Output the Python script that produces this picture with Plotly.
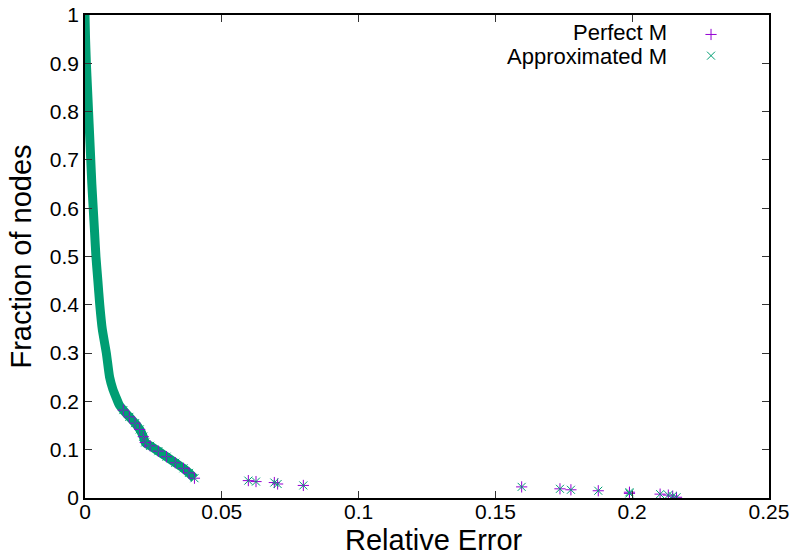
import plotly.graph_objects as go

# dense part of the curve (relative error, fraction of nodes)
band_err = [0.0, 0.0002, 0.0005, 0.0009, 0.0013, 0.0017, 0.0021, 0.0025, 0.0030,
            0.0035, 0.0040, 0.0047, 0.0054, 0.0063, 0.0078, 0.0090, 0.0102, 0.0116,
            0.0125, 0.0140, 0.0162, 0.0183, 0.0200, 0.0213, 0.0220, 0.0238, 0.0268,
            0.0298, 0.0330, 0.0360, 0.0380, 0.0400]
band_frac = [1.0, 0.95, 0.90, 0.85, 0.80, 0.75, 0.70, 0.65, 0.60,
             0.55, 0.50, 0.45, 0.40, 0.35, 0.30, 0.25, 0.225, 0.205,
             0.193, 0.182, 0.168, 0.155, 0.142, 0.127, 0.115, 0.108, 0.097,
             0.0855, 0.073, 0.0615, 0.052, 0.041]

# scattered points (tail of the band + isolated nodes)
tail_err = [0.0140, 0.0162, 0.0183, 0.0200, 0.0213, 0.0220, 0.0238, 0.0268, 0.0298,
            0.0330, 0.0360, 0.0380, 0.0400, 0.0597, 0.0625, 0.0692, 0.0704, 0.0798,
            0.1596, 0.1736, 0.1776, 0.1876, 0.1990, 0.1990, 0.2102, 0.2132, 0.2148, 0.2162]
tail_frac = [0.182, 0.168, 0.155, 0.142, 0.127, 0.115, 0.108, 0.097, 0.0855,
             0.073, 0.0615, 0.052, 0.041, 0.036, 0.034, 0.032, 0.029, 0.026,
             0.023, 0.019, 0.017, 0.015, 0.012, 0.0095, 0.008, 0.006, 0.004, 0.0015]

x_ticks = [0, 0.05, 0.1, 0.15, 0.2, 0.25]
x_ticktext = ['0', '0.05', '0.1', '0.15', '0.2', '0.25']
y_ticks = [0, 0.1, 0.2, 0.3, 0.4, 0.5, 0.6, 0.7, 0.8, 0.9, 1]
y_ticktext = ['0', '0.1', '0.2', '0.3', '0.4', '0.5', '0.6', '0.7', '0.8', '0.9', '1']

PURPLE = '#9400d3'
GREEN = '#009e73'
FONT = 'Liberation Sans, Arial, sans-serif'

fig = go.Figure()

# thick band where thousands of points overlap
fig.add_trace(go.Scatter(
    x=band_err, y=band_frac, mode='lines',
    line=dict(color=GREEN, width=9, shape='spline', smoothing=0.6),
    showlegend=False, hoverinfo='skip'
))
fig.add_trace(go.Scatter(
    x=tail_err, y=tail_frac, mode='markers', name='',
    marker=dict(symbol='cross-thin', size=8, line=dict(color=PURPLE, width=1)),
    hovertemplate='Perfect M<br>%{x}, %{y}<extra></extra>'
))
fig.add_trace(go.Scatter(
    x=tail_err, y=tail_frac, mode='markers', name='',
    marker=dict(symbol='x-thin', size=8, line=dict(color=GREEN, width=1)),
    hovertemplate='Approximated M<br>%{x}, %{y}<extra></extra>'
))

axis_common = dict(
    showgrid=False, zeroline=False, automargin=False,
    showline=True, linecolor='black', linewidth=1.5, mirror='ticks',
    ticks='inside', ticklen=7, tickcolor='#333', tickwidth=1,
    tickfont=dict(size=21, color='black', family=FONT),
    ticklabeloverflow='allow',
)

fig.update_layout(
    width=793, height=555,
    margin=dict(l=85, r=24, t=15, b=57),
    paper_bgcolor='white', plot_bgcolor='white',
    font=dict(family=FONT, color='black'),
    xaxis=dict(range=[0, 0.25], tickvals=x_ticks, ticktext=x_ticktext,
               ticklabelstandoff=-6, **axis_common),
    yaxis=dict(range=[0, 1], tickvals=y_ticks, ticktext=y_ticktext,
               **axis_common),
    legend=dict(x=0.886, y=0.992, xanchor='left', yanchor='top',
                bgcolor='rgba(0,0,0,0)', font=dict(size=14), tracegroupgap=0),
    annotations=[
        dict(text='Relative Error', xref='paper', yref='paper', x=(434 - 85) / 684, y=(498 - 540) / 483,
             xanchor='center', yanchor='middle', showarrow=False, font=dict(size=29)),
        dict(text='Fraction of nodes', xref='paper', yref='paper', x=(20 - 85) / 684, y=0.5,
             xanchor='center', yanchor='middle', textangle=-90, showarrow=False, font=dict(size=29)),
        dict(text='Perfect M', xref='paper', yref='paper', x=(669 - 85) / 684, y=(498 - 33) / 483,
             xanchor='right', yanchor='middle', showarrow=False, font=dict(size=22)),
        dict(text='Approximated M', xref='paper', yref='paper', x=(669 - 85) / 684, y=(498 - 56) / 483,
             xanchor='right', yanchor='middle', showarrow=False, font=dict(size=22)),
    ],
)

# drop the default page margin so the figure fills the window exactly
fig.write_html('out.html', config={'displayModeBar': False},
               post_script="document.body.style.margin='0';")
